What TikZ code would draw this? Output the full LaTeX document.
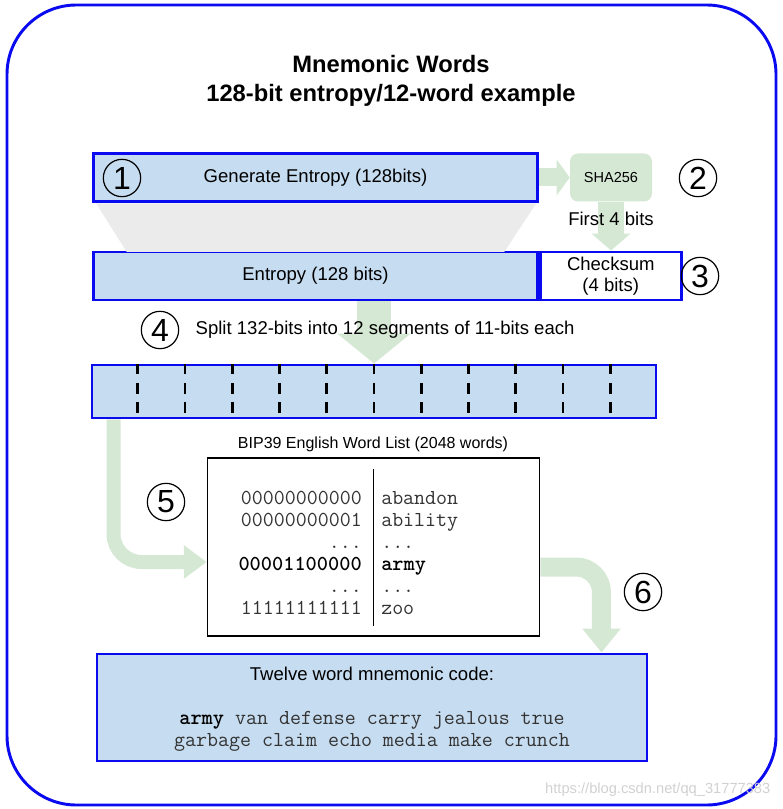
\documentclass[tikz,border=0pt]{standalone}
\usepackage{fontspec}
\setmainfont{Liberation Sans}
\usetikzlibrary{arrows.meta,positioning,calc}
\definecolor{boxblue}{HTML}{C6DCF0}
\definecolor{lineblue}{HTML}{0A0AF0}
\definecolor{flowgreen}{HTML}{D5E8D4}
\definecolor{funnelgray}{HTML}{EBEBEB}

\begin{document}
\begin{tikzpicture}[x=0.75pt, y=-0.75pt,
        every node/.style = {font=\fontsize{13.9}{16.5}\selectfont},
        bluebox/.style = {draw=lineblue, line width=2.2pt, fill=boxblue,
          inner sep=0pt, align=center},
        stepnum/.style = {circle, draw, line width=0.9pt, minimum size=28pt,
          inner sep=0pt, font=\fontsize{24}{24}\selectfont},
        flowarrow/.style n args = {3}{draw=flowgreen, line width=#1,
          -{Triangle[length=#3, width=#2]}},
        divider/.style = {line width=2pt, dash pattern=on 8pt off 6.5pt},
        wordcol/.style = {font=\fontsize{16}{16.5}\selectfont\ttfamily,
          text=black!80, inner sep=0pt}]
  \useasboundingbox (0,0) rectangle (782,809);
  \draw[lineblue, line width=2.2pt, rounded corners=52pt] (7,5) rectangle (776,805);

  % title
  \node[align=center, font=\bfseries\fontsize{17.8}{21.75}\selectfont] (title) at (391,80.5)
    {Mnemonic Words\\128-bit entropy/12-word example};

  % entropy and checksum
  \node[bluebox, minimum width=333pt, minimum height=36.5pt] (gen) at (315.5,177.5)
    {Generate Entropy (128bits)};
  \node[bluebox, minimum width=333pt, minimum height=36pt] (entropy) at (315.5,276)
    {Entropy (128 bits)};
  \node[bluebox, fill=white, minimum width=105.5pt, minimum height=36pt,
    right=0pt of entropy, font=\fontsize{13.9}{15.75}\selectfont] (checksum) {Checksum\\(4 bits)};
  \node[fill=flowgreen, rounded corners=6pt, minimum width=61.5pt, minimum height=36pt,
    font=\fontsize{10.9}{12}\selectfont] (sha) at (611,177.5) {SHA256};
  \fill[funnelgray] ([xshift=3pt]gen.south west) -- ([xshift=-2pt]gen.south east)
    -- ([xshift=-26pt,yshift=-1pt]entropy.north east) -- ([xshift=26pt,yshift=-1pt]entropy.north west) -- cycle;
  \draw[flowarrow={13.5pt}{26.25pt}{9.75pt}] (gen.east) -- (sha.west);
  \draw[flowarrow={19.5pt}{28.5pt}{12.75pt}] (sha.south) -- (sha.south |- checksum.north);
  \node (first) at (611,219) {First 4 bits};

  % segments
  \node[bluebox, minimum width=423pt, minimum height=39.75pt] (seg) at (374,391.5) {};
  \draw[flowarrow={25.5pt}{54pt}{22.5pt}] (seg.north |- entropy.south) -- (seg.north);
  \node[anchor=west] (split) at (191,330) {Split 132-bits into 12 segments of 11-bits each};
  \foreach \i in {1,...,11}
    \draw[divider] ($(seg.north west)!\i/12!(seg.north east)$) -- ($(seg.south west)!\i/12!(seg.south east)$);

  % word list
  \node[font=\fontsize{12}{14}\selectfont] (listname) at (373,444) {BIP39 English Word List (2048 words)};
  \node[draw, line width=0.8pt, fill=white, minimum width=249.5pt, minimum height=133.5pt] (list) at (373.5,547) {};
  \draw[line width=0.8pt] ([yshift=-9pt]list.north) -- ([yshift=8pt]list.south);
  \node[wordcol, anchor=east, align=right] (bits) at (362,553)
    {00000000000\\00000000001\\...\\\textbf{\textcolor{black}{00001100000}}\\...\\11111111111};
  \node[wordcol, anchor=west, align=left] (words) at (381,553)
    {abandon\\ability\\...\\\textbf{\textcolor{black}{army}}\\...\\zoo};
  \draw[flowarrow={10.5pt}{24pt}{17pt}, rounded corners=21pt]
    ([xshift=17.25pt]seg.south west) |- ([yshift=-11.25pt]list.west);

  % mnemonic code
  \node[bluebox, minimum width=412.5pt, minimum height=80.25pt] (mnem) at (372,707.5)
    {\raisebox{0pt}[12pt][0pt]{Twelve word mnemonic code:}\\[16.5pt]
     {\ttfamily\fontsize{16}{16.5}\selectfont\color{black!80}\textbf{\textcolor{black}{army}} van defense carry jealous true}\\
     {\ttfamily\fontsize{16}{16.5}\selectfont\color{black!80}garbage claim echo media make crunch}};
  \draw[flowarrow={14.25pt}{27.75pt}{18pt}, rounded corners=19pt]
    ([yshift=-15pt]list.east) -| ([xshift=-35.25pt]mnem.north east);

  % step numbers
  \node[stepnum] (n1) at (122,178) {1};
  \node[stepnum] (n2) at (698,178) {2};
  \node[stepnum] (n3) at (700,276) {3};
  \node[stepnum] (n4) at (160,330) {4};
  \node[stepnum] (n5) at (166,502) {5};
  \node[stepnum] (n6) at (643,592) {6};

  \node[text=black!18, font=\fontsize{11}{13}\selectfont, anchor=east] (mark) at (775,790)
    {https://blog.csdn.net/qq\_31777383};
\end{tikzpicture}
\end{document}
